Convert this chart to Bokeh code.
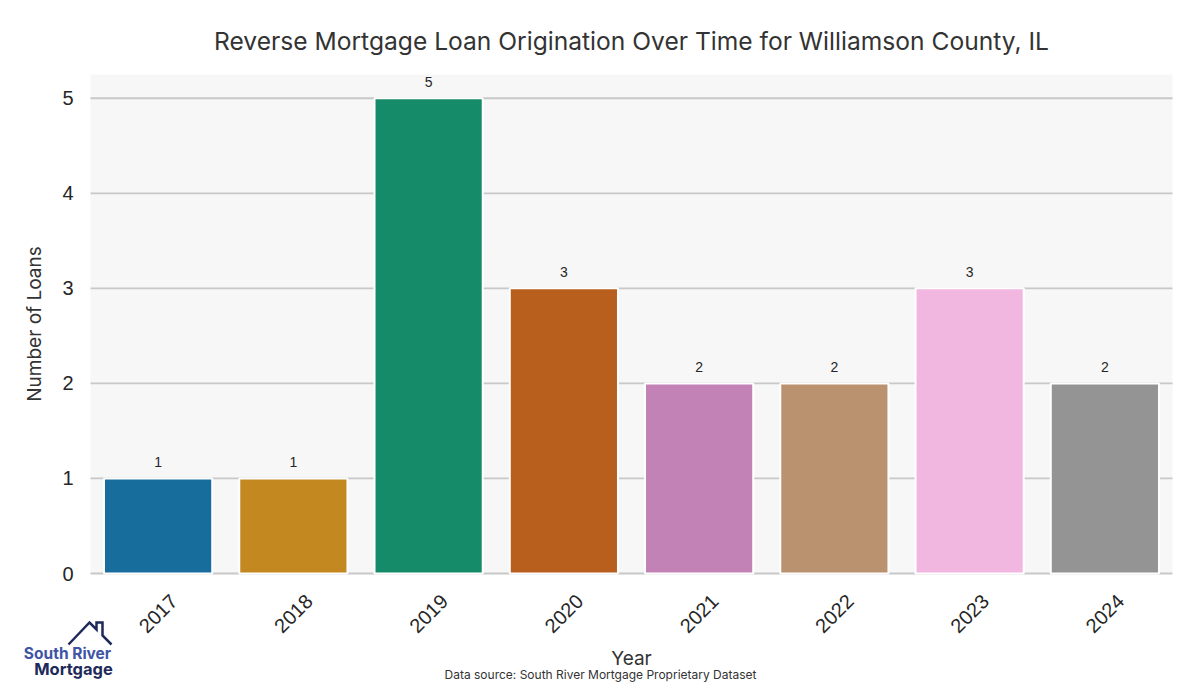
import numpy as np
from bokeh.plotting import figure
from bokeh.models import ColumnDataSource, Range1d
from bokeh.core.properties import value
from bokeh.embed import file_html
from bokeh.resources import INLINE

years = ["2017", "2018", "2019", "2020", "2021", "2022", "2023", "2024"]
loans = [1, 1, 5, 3, 2, 2, 3, 2]
colors = ["#176d9c", "#c38820", "#168b6a", "#b85f1d", "#c382b6", "#bb9270", "#f1b7e0", "#949494"]
y_ticks = [0, 1, 2, 3, 4, 5]
title = "Reverse Mortgage Loan Origination Over Time for Williamson County, IL"
x_label = "Year"
y_label = "Number of Loans"
source_note = "Data source: South River Mortgage Proprietary Dataset"

# canvas / plot-area geometry in pixels
W, H = 1184, 684
PL, PT, PR, PB = 90, 74, 1172, 573
N = len(years)
Y_TOP = 5.25
XPU = (PR - PL) / N
YPU = (PB - PT) / Y_TOP


def dx(px):
    return -0.5 + (px - PL) / XPU


def dy(py):
    return (PB - py) / YPU


p = figure(width=W, height=H, frame_width=W, frame_height=H,
           x_range=Range1d(dx(0), dx(W)), y_range=Range1d(dy(H), dy(0)),
           x_axis_location=None, y_axis_location=None,
           output_backend="svg", toolbar_location=None,
           min_border=0, background_fill_color="white", border_fill_color="white")
p.outline_line_color = None
p.grid.visible = False

idx = list(range(N))
src = ColumnDataSource(dict(i=idx, year=years, loans=loans, color=colors,
                            zero=[0] * N, label=[str(v) for v in loans]))

# plot area background
p.quad(left=[-0.5], right=[N - 0.5], bottom=[0], top=[Y_TOP],
       fill_color="#f7f7f7", line_color=None)

# horizontal grid lines at the y ticks
p.segment(x0=[-0.5] * len(y_ticks), x1=[N - 0.5] * len(y_ticks), y0=y_ticks, y1=y_ticks,
          line_color="#c8c8c8", line_width=1.8)

# bars
p.vbar(x="i", top="loans", width=0.8, source=src, fill_color="color",
       line_color="white", line_width=2)

# value labels
p.text(x="i", y="loans", text="label", source=src, y_offset=-11,
       text_align="center", text_baseline="bottom", text_font=value("Liberation Sans"),
       text_font_size="14px", text_color="#262626")

# y tick labels
p.text(x=[-0.5] * len(y_ticks), y=y_ticks, text=[str(t) for t in y_ticks], x_offset=-17,
       text_align="right", text_baseline="middle", text_font=value("Liberation Sans"),
       text_font_size="20px", text_color="#262626")

# x tick labels (rotated, centred under bars)
p.text(x="i", y="zero", text="year", source=src, y_offset=40, angle=np.pi / 4,
       text_align="center", text_baseline="middle", text_font=value("Liberation Sans"),
       text_font_size="20px", text_color="#262626")

# axis labels
p.text(x=[-0.5], y=[Y_TOP / 2], text=[y_label], x_offset=-56, angle=np.pi / 2,
       text_align="center", text_baseline="middle", text_font=value("Inter"),
       text_font_size="19px", text_color="#333333")
p.text(x=[(N - 1) / 2], y=[0], text=[x_label], y_offset=85,
       text_align="center", text_baseline="middle", text_font=value("Inter"),
       text_font_size="19px", text_color="#333333")

# title
p.text(x=[(N - 1) / 2], y=[Y_TOP], text=[title], y_offset=-34,
       text_align="center", text_baseline="middle", text_font=value("Inter"),
       text_font_size="24.6px", text_color="#333333")

# source note
p.text(x=[(N - 1) / 2], y=[0], text=[source_note], y_offset=101, x_offset=-31,
       text_align="center", text_baseline="middle", text_font=value("Inter"),
       text_font_size="12px", text_color="#333333")

# logo
p.text(x=[dx(67)], y=[dy(653)], text=["South River"], text_align="center",
       text_baseline="middle", text_font=value("Inter"), text_font_style="bold",
       text_font_size="15.5px", text_color="#4054a6")
p.text(x=[dx(73)], y=[dy(668)], text=["Mortgage"], text_align="center",
       text_baseline="middle", text_font=value("Inter"), text_font_style="bold",
       text_font_size="16.5px", text_color="#1e2a5a")
hx = [68, 89, 96, 96, 102, 102, 111]
hy = [644, 622, 629, 622, 622, 635, 644]
p.line(x=[dx(v) for v in hx], y=[dy(v) for v in hy], line_color="#1e2a5a", line_width=2.5,
       line_join="miter")

open("out.html", "w").write(file_html(p, INLINE))
